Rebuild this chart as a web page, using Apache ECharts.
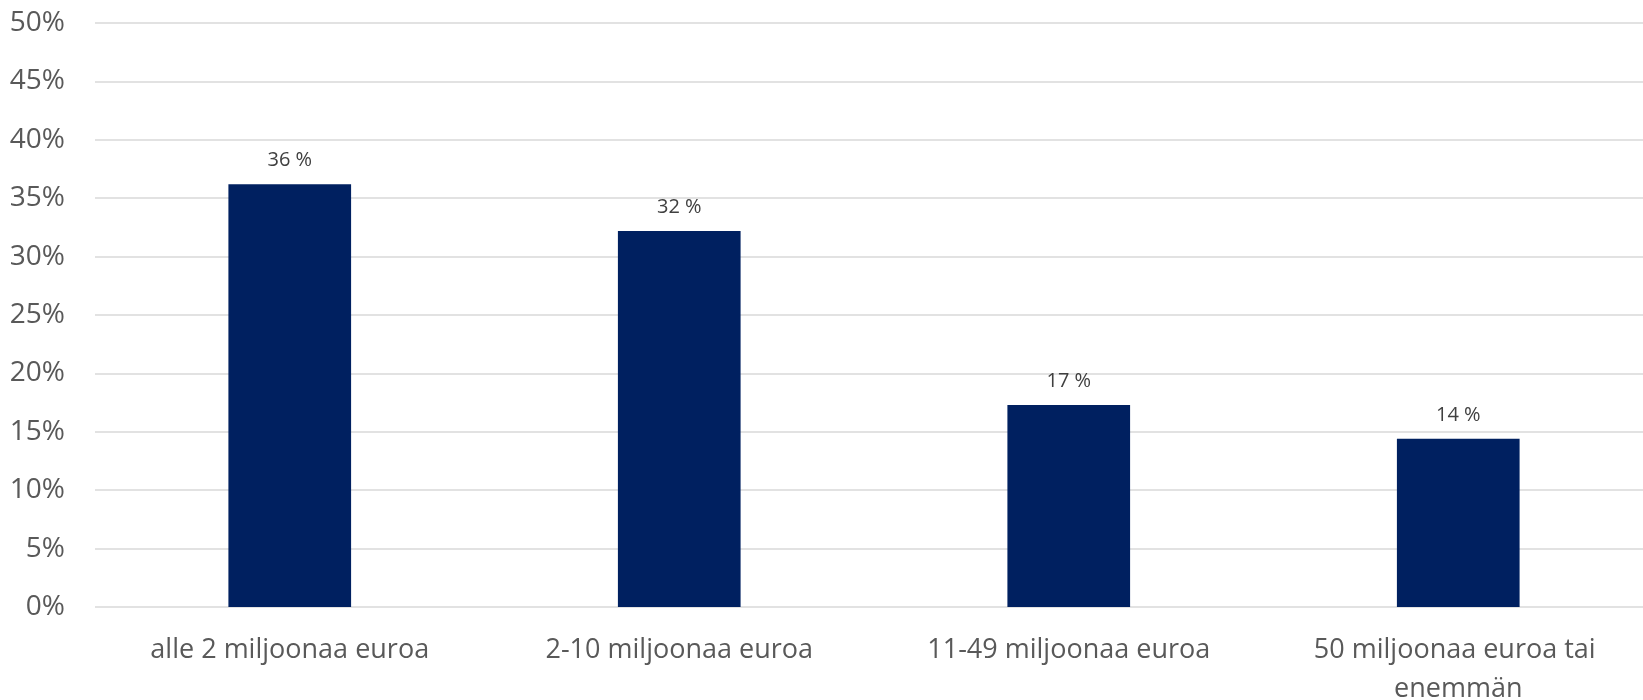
<!DOCTYPE html>
<html>
<head>
<meta charset="utf-8">
<script src="https://cdn.jsdelivr.net/npm/echarts@6/dist/echarts.min.js"></script>
<style>html,body{margin:0;padding:0;background:#fff}#c{width:1643px;height:700px}</style>
</head>
<body>
<div id="c"></div>
<script>
const categories = ['alle 2 miljoonaa euroa', '2-10 miljoonaa euroa', '11-49 miljoonaa euroa', '50 miljoonaa euroa tai enemmän'];
const values = [36.2, 32.2, 17.3, 14.4];
const yTicks = [0, 5, 10, 15, 20, 25, 30, 35, 40, 45, 50];

const chart = echarts.init(document.getElementById('c'));
chart.setOption({
  animation: false,
  grid: { left: 95, right: -10, top: 23, bottom: 93, containLabel: false, outerBoundsMode: 'none' },
  xAxis: {
    type: 'category',
    data: categories,
    axisLine: { show: false },
    axisTick: { show: false },
    axisLabel: {
      color: '#595959', fontFamily: 'Open Sans', fontSize: 27, margin: 24,
      width: 340, overflow: 'break', lineHeight: 39, interval: 0
    }
  },
  yAxis: {
    type: 'value',
    min: yTicks[0], max: yTicks[yTicks.length - 1], interval: 5,
    axisLine: { show: false },
    axisTick: { show: false },
    splitLine: { lineStyle: { color: '#d9d9d9', width: 1.5 } },
    axisLabel: { color: '#595959', fontFamily: 'Open Sans', fontSize: 28, margin: 30, formatter: v => v + '%' }
  },
  series: [{
    type: 'bar',
    data: values,
    barWidth: '31.5%',
    itemStyle: { color: '#002060' },
    label: {
      show: true, position: 'top', distance: 14,
      color: '#404040', fontFamily: 'Open Sans', fontSize: 20,
      formatter: p => Math.round(p.value) + ' %'
    }
  }]
});
</script>
</body>
</html>
